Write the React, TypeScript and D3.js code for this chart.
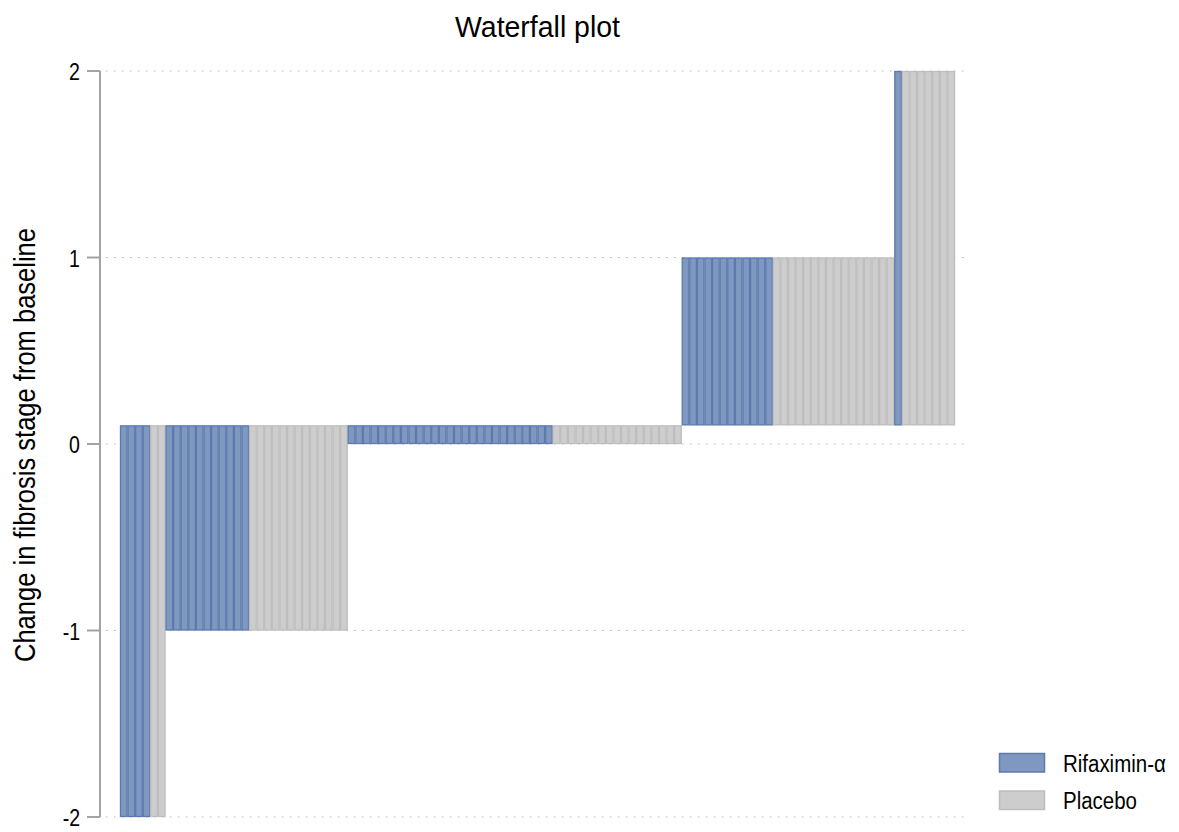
import React from "react";
import * as d3 from "d3";

// Change in fibrosis stage, and the number of patients at each change, per arm
const stages = [-2, -1, 0, 1, 2];
const rifaximinCounts = [4, 11, 27, 12, 1];
const placeboCounts = [2, 13, 17, 16, 7];
const yTicks = [-2, -1, 0, 1, 2];
const arms = ["Rifaximin-α", "Placebo"];

const W = 1179;
const H = 832;
const FONT = "'Liberation Sans', Arial, sans-serif";
// horizontal squeeze that gives the condensed lettering
const NARROW = 0.85;
const NARROW_LEGEND = 0.89;

const colors: Record<string, { fill: string; stroke: string }> = {
  "Rifaximin-α": { fill: "#7f98c0", stroke: "#5c7aae" },
  Placebo: { fill: "#cdcdcd", stroke: "#bdbdbd" },
};

type Bar = { id: number; arm: string; value: number };

// One bar per patient, ordered by change, Rifaximin-α before Placebo at each stage
const bars: Bar[] = [];
stages.forEach((s, i) => {
  for (let k = 0; k < rifaximinCounts[i]; k++) bars.push({ id: bars.length, arm: arms[0], value: s });
  for (let k = 0; k < placeboCounts[i]; k++) bars.push({ id: bars.length, arm: arms[1], value: s });
});

// Bars start from 0.1; an unchanged stage is shown as a small stub from 0 to 0.1
const BASE = 0.1;

export default function App() {
  const x = d3
    .scaleBand<number>()
    .domain(bars.map((b) => b.id))
    .range([120, 955])
    .padding(0);
  const y = d3.scaleLinear().domain([-2, 2]).range([817, 71]);

  return (
    <svg
      width={W}
      height={H}
      style={{ position: "absolute", left: 0, top: 0, background: "#fff" }}
      fontFamily={FONT}
    >
      <text
        x={537.5}
        y={37}
        textAnchor="middle"
        fontSize={30}
        fill="#000"
        textLength={165}
        lengthAdjust="spacingAndGlyphs"
      >
        Waterfall plot
      </text>

      {/* gridlines */}
      {yTicks.map((t) => (
        <line
          key={"g" + t}
          x1={106}
          x2={970}
          y1={y(t)}
          y2={y(t)}
          stroke="#b8b8b8"
          strokeWidth={1.2}
          strokeDasharray="1.5 6.5"
        />
      ))}

      {/* bars */}
      {bars.map((b) => {
        const lo = b.value === 0 ? 0 : Math.min(BASE, b.value);
        const hi = b.value === 0 ? BASE : Math.max(BASE, b.value);
        const c = colors[b.arm];
        return (
          <rect
            key={b.id}
            x={x(b.id)! + 0.5}
            width={x.bandwidth() - 1}
            y={y(hi) + 0.5}
            height={y(lo) - y(hi) - 1}
            fill={c.fill}
            stroke={c.stroke}
            strokeWidth={1.3}
          />
        );
      })}

      {/* y axis */}
      <line x1={100} x2={100} y1={y(2)} y2={y(-2)} stroke="#a3a3a3" strokeWidth={2} />
      {yTicks.map((t) => (
        <g key={"t" + t}>
          <line x1={87} x2={100} y1={y(t)} y2={y(t)} stroke="#a3a3a3" strokeWidth={2} />
          <g transform={`translate(80, ${y(t) + 9}) scale(${NARROW}, 1)`}>
            <text x={0} y={0} textAnchor="end" fontSize={23} fill="#000">
              {t}
            </text>
          </g>
        </g>
      ))}
      <text
        transform={`translate(35, ${y(0) + 1}) rotate(-90)`}
        textAnchor="middle"
        fontSize={30}
        fill="#000"
        textLength={434}
        lengthAdjust="spacingAndGlyphs"
      >
        Change in fibrosis stage from baseline
      </text>

      {/* legend */}
      {arms.map((a, i) => (
        <g key={a} transform={`translate(0, ${753 + i * 37.5})`}>
          <rect
            x={999.5}
            y={0.5}
            width={45}
            height={18.5}
            fill={colors[a].fill}
            stroke={colors[a].stroke}
            strokeWidth={1.5}
          />
          <g transform={`translate(1063, 18.5) scale(${NARROW_LEGEND}, 1)`}>
            <text x={0} y={0} fontSize={23} fill="#000">
              {a}
            </text>
          </g>
        </g>
      ))}
    </svg>
  );
}
